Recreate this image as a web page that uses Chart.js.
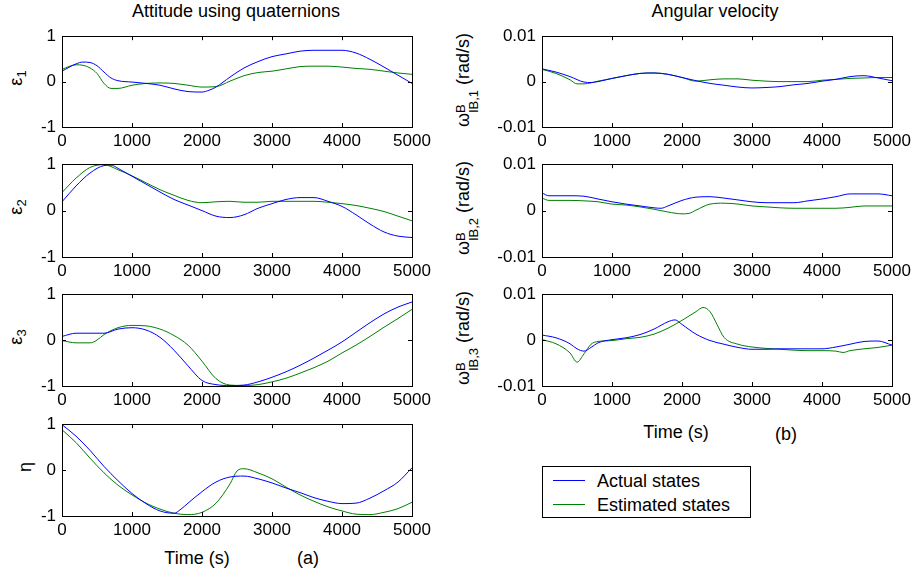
<!DOCTYPE html>
<html>
<head>
<meta charset="utf-8">
<script src="https://cdn.jsdelivr.net/npm/chart.js@4.4.0/dist/chart.umd.min.js"></script>
<style>
  body { margin: 0; background: #fff; }
  #fig { position: relative; width: 915px; height: 578px; overflow: hidden;
         font-family: "Liberation Sans", Arial, sans-serif; color: #000; }
  #fig canvas { position: absolute; }
  .txt { position: absolute; font-size: 18px; white-space: nowrap; line-height: 1;
         transform: translate(-50%, -50%); }
  .rot { transform: translate(-50%, -50%) rotate(-90deg); }
  .txt sub { font-size: 13px; vertical-align: -4px; }
  .stk { display: inline-block; vertical-align: -9px; font-size: 13px; line-height: 13px; }
  .stk span { display: block; }
  #legend { position: absolute; left: 542px; top: 466px; width: 207px; height: 50px;
            border: 1px solid #000; font-size: 18px; }
  #legend div { position: absolute; left: 54px; }
  #legend i { position: absolute; left: 10px; width: 32px; height: 1px; }
</style>
</head>
<body>
<div id="fig">
  <div class="txt" style="left:236px;top:11px">Attitude using quaternions</div>
  <div class="txt" style="left:715px;top:11px">Angular velocity</div>

  <div class="txt rot" style="left:17px;top:78px">ε<sub>1</sub></div>
  <div class="txt rot" style="left:17px;top:207px">ε<sub>2</sub></div>
  <div class="txt rot" style="left:17px;top:337px">ε<sub>3</sub></div>
  <div class="txt rot" style="left:25px;top:467px">η</div>

  <div class="txt rot" style="left:467px;top:80px">ω<span class="stk"><span>B</span><span>IB,1</span></span> (rad/s)</div>
  <div class="txt rot" style="left:467px;top:208px">ω<span class="stk"><span>B</span><span>IB,2</span></span> (rad/s)</div>
  <div class="txt rot" style="left:467px;top:338px">ω<span class="stk"><span>B</span><span>IB,3</span></span> (rad/s)</div>

  <div class="txt" style="left:197px;top:558px">Time (s)</div>
  <div class="txt" style="left:308px;top:558px">(a)</div>
  <div class="txt" style="left:676px;top:432px">Time (s)</div>
  <div class="txt" style="left:786px;top:434px">(b)</div>

  <div id="legend">
    <i style="top:13px;background:#0000ff"></i><div style="top:4px">Actual states</div>
    <i style="top:37px;background:#008000"></i><div style="top:28px">Estimated states</div>
  </div>
</div>
<script>
// time axis and tick values
const timeTicks = [0, 1000, 2000, 3000, 4000, 5000];
const attTicks = [-1, 0, 1];
const rateTicks = [-0.01, 0, 0.01];

// quaternion components, [time (s), value]
const eps1Actual = [[0,0.23],[200,0.39],[300,0.43],[400,0.42],[500,0.35],[600,0.21],[700,0.08],[800,0.02],[1000,-0.01],[1200,-0.04],[1400,-0.08],[1600,-0.16],[1800,-0.22],[2000,-0.23],[2100,-0.19],[2200,-0.12],[2400,0.10],[2600,0.30],[2800,0.44],[3000,0.55],[3200,0.61],[3400,0.67],[3600,0.69],[3800,0.69],[4000,0.69],[4200,0.63],[4400,0.49],[4600,0.32],[4800,0.14],[5000,-0.04]];
const eps1Est = [[0,0.27],[200,0.37],[300,0.36],[400,0.30],[500,0.18],[600,-0.04],[700,-0.15],[800,-0.15],[1000,-0.08],[1200,-0.04],[1400,-0.03],[1600,-0.04],[1800,-0.08],[2000,-0.12],[2200,-0.11],[2400,0.01],[2600,0.13],[2800,0.20],[3000,0.23],[3200,0.28],[3400,0.33],[3600,0.34],[3800,0.34],[4000,0.32],[4200,0.29],[4400,0.27],[4600,0.23],[4800,0.19],[5000,0.16]];

const eps2Actual = [[0,0.19],[200,0.53],[400,0.81],[600,0.97],[700,0.98],[800,0.91],[1000,0.74],[1200,0.57],[1400,0.40],[1600,0.24],[1800,0.12],[2000,0.0],[2200,-0.12],[2400,-0.15],[2600,-0.09],[2800,0.05],[3000,0.15],[3200,0.24],[3400,0.28],[3600,0.28],[3800,0.20],[4000,0.09],[4200,-0.09],[4400,-0.29],[4600,-0.46],[4800,-0.55],[5000,-0.58]];
const eps2Est = [[0,0.39],[200,0.70],[400,0.93],[600,0.99],[800,0.88],[1000,0.75],[1200,0.60],[1400,0.45],[1600,0.33],[1800,0.22],[2000,0.17],[2200,0.19],[2400,0.20],[2600,0.18],[2800,0.18],[3000,0.20],[3200,0.20],[3400,0.20],[3600,0.20],[3800,0.18],[4000,0.15],[4200,0.11],[4400,0.05],[4600,-0.02],[4800,-0.12],[5000,-0.22]];

const eps3Actual = [[0,0.08],[200,0.15],[400,0.15],[600,0.15],[800,0.24],[1000,0.27],[1200,0.22],[1400,0.06],[1600,-0.22],[1800,-0.56],[2000,-0.88],[2200,-0.97],[2400,-0.99],[2600,-0.98],[2800,-0.91],[3000,-0.81],[3200,-0.69],[3400,-0.55],[3600,-0.39],[3800,-0.22],[4000,-0.04],[4200,0.17],[4400,0.38],[4600,0.57],[4800,0.72],[5000,0.83]];
const eps3Est = [[0,-0.01],[200,-0.06],[400,-0.06],[500,0.0],[600,0.12],[800,0.27],[1000,0.32],[1200,0.31],[1400,0.24],[1600,0.10],[1800,-0.11],[2000,-0.46],[2200,-0.84],[2400,-0.98],[2600,-0.99],[2800,-0.97],[3000,-0.91],[3200,-0.83],[3400,-0.72],[3600,-0.60],[3800,-0.46],[4000,-0.28],[4200,-0.11],[4400,0.08],[4600,0.28],[4800,0.47],[5000,0.67]];

const etaActual = [[0,0.99],[200,0.74],[400,0.43],[600,0.08],[800,-0.23],[1000,-0.51],[1200,-0.73],[1400,-0.89],[1600,-0.94],[1700,-0.85],[1800,-0.72],[2000,-0.47],[2200,-0.26],[2400,-0.15],[2600,-0.13],[2800,-0.19],[3000,-0.28],[3200,-0.39],[3400,-0.49],[3600,-0.60],[3800,-0.68],[4000,-0.73],[4200,-0.72],[4400,-0.61],[4600,-0.45],[4800,-0.26],[5000,0.05]];
const etaEst = [[0,0.88],[200,0.60],[400,0.26],[600,-0.06],[800,-0.33],[1000,-0.54],[1200,-0.72],[1400,-0.85],[1600,-0.94],[1800,-0.97],[2000,-0.92],[2200,-0.72],[2400,-0.30],[2500,-0.02],[2600,0.03],[2800,-0.06],[3000,-0.19],[3200,-0.37],[3400,-0.54],[3600,-0.68],[3800,-0.80],[4000,-0.89],[4200,-0.96],[4400,-0.97],[4600,-0.92],[4800,-0.84],[5000,-0.70]];

// body rates (rad/s), [time (s), value]
const w1Actual = [[0,0.0028],[200,0.0021],[400,0.0011],[600,-0.0001],[700,-0.0002],[800,0.0],[1000,0.0007],[1200,0.0013],[1400,0.0018],[1600,0.0019],[1800,0.0016],[2000,0.0009],[2200,0.0002],[2400,-0.0004],[2600,-0.0008],[2800,-0.0012],[3000,-0.0014],[3200,-0.0013],[3400,-0.0011],[3600,-0.0007],[3800,-0.0004],[4000,0.0001],[4200,0.0005],[4400,0.0011],[4600,0.0013],[4800,0.0008],[5000,0.0002]];
const w1Est = [[0,0.0027],[200,0.0018],[400,0.0004],[500,-0.0005],[600,-0.0005],[800,0.0001],[1000,0.0007],[1200,0.0013],[1400,0.0018],[1600,0.0019],[1800,0.0016],[2000,0.0009],[2200,0.0001],[2400,0.0004],[2600,0.0006],[2800,0.0006],[3000,0.0003],[3200,0.0001],[3400,0.0],[3600,0.0],[3800,0.0],[4000,0.0003],[4200,0.0005],[4400,0.0007],[4600,0.0008],[4800,0.0009],[5000,0.0009]];

const w2Actual = [[0,0.0038],[100,0.0032],[400,0.0032],[600,0.0031],[800,0.0025],[1000,0.0019],[1200,0.0014],[1400,0.0010],[1600,0.0006],[1700,0.0005],[1800,0.0010],[2000,0.0022],[2200,0.0029],[2400,0.0030],[2600,0.0027],[2800,0.0023],[3000,0.0019],[3200,0.0017],[3400,0.0017],[3600,0.0017],[3800,0.0021],[4000,0.0025],[4200,0.0030],[4400,0.0036],[4600,0.0036],[4800,0.0036],[5000,0.0032]];
const w2Est = [[0,0.0027],[100,0.0022],[400,0.0022],[600,0.0021],[800,0.0019],[1000,0.0014],[1200,0.0012],[1400,0.0008],[1600,0.0003],[1800,-0.0003],[2000,-0.0007],[2100,-0.0006],[2200,0.0001],[2400,0.0014],[2600,0.0016],[2800,0.0014],[3000,0.0010],[3200,0.0008],[3400,0.0006],[3600,0.0005],[3800,0.0005],[4000,0.0005],[4200,0.0005],[4400,0.0007],[4600,0.0010],[4800,0.0010],[5000,0.0010]];

const w3Actual = [[0,0.0011],[200,0.0005],[400,-0.0008],[500,-0.0019],[600,-0.0024],[700,-0.0016],[800,-0.0006],[1000,0.0001],[1200,0.0005],[1400,0.0012],[1600,0.0024],[1800,0.0040],[1900,0.0044],[2000,0.0034],[2200,0.0013],[2400,-0.0001],[2600,-0.0009],[2800,-0.0016],[3000,-0.0020],[3200,-0.0020],[3400,-0.0019],[3600,-0.0019],[3800,-0.0019],[4000,-0.0019],[4200,-0.0015],[4400,-0.0009],[4600,-0.0003],[4800,-0.0002],[5000,-0.0011]];
const w3Est = [[0,0.0001],[200,-0.0008],[400,-0.0028],[500,-0.0048],[600,-0.0030],[700,-0.0009],[800,-0.0003],[1000,-0.0001],[1200,0.0003],[1400,0.0006],[1600,0.0013],[1800,0.0026],[2000,0.0043],[2200,0.0062],[2300,0.0071],[2400,0.0062],[2500,0.0034],[2600,0.0006],[2800,-0.0009],[3000,-0.0015],[3200,-0.0018],[3400,-0.0020],[3600,-0.0022],[3800,-0.0023],[4000,-0.0023],[4200,-0.0024],[4300,-0.0027],[4400,-0.0023],[4600,-0.0019],[4800,-0.0016],[5000,-0.0011]];

const ACTUAL = '#0000ff';
const ESTIMATED = '#008000';

// box around the axes with inward ticks on all four sides
const boxTicks = {
  id: 'boxTicks',
  afterDatasetsDraw(chart) {
    const { ctx, chartArea: a, scales: { x, y } } = chart;
    const len = 4;
    ctx.save();
    ctx.strokeStyle = '#000';
    ctx.lineWidth = 1;
    ctx.beginPath();
    x.ticks.forEach(t => {
      const px = Math.round(x.getPixelForValue(t.value)) + 0.5;
      ctx.moveTo(px, a.bottom); ctx.lineTo(px, a.bottom - len);
      ctx.moveTo(px, a.top); ctx.lineTo(px, a.top + len);
    });
    y.ticks.forEach(t => {
      const py = Math.round(y.getPixelForValue(t.value)) + 0.5;
      ctx.moveTo(a.left, py); ctx.lineTo(a.left + len, py);
      ctx.moveTo(a.right, py); ctx.lineTo(a.right - len, py);
    });
    ctx.stroke();
    ctx.strokeRect(Math.round(a.left) + 0.5, Math.round(a.top) + 0.5,
                   Math.round(a.right - a.left), Math.round(a.bottom - a.top));
    ctx.restore();
  }
};

const tickFont = { family: '"Liberation Sans", Arial, sans-serif', size: 17 };

function panel(plotLeft, plotTop, plotRight, plotBottom, yTicks, actual, estimated) {
  const yAxisW = 62, xAxisH = 30, padTop = 12, padRight = 24;
  const canvas = document.createElement('canvas');
  const w = plotRight - plotLeft + yAxisW + padRight;
  const h = plotBottom - plotTop + padTop + xAxisH;
  canvas.width = w; canvas.height = h;
  canvas.style.left = (plotLeft - yAxisW) + 'px';
  canvas.style.top = (plotTop - padTop) + 'px';
  canvas.style.width = w + 'px'; canvas.style.height = h + 'px';
  document.getElementById('fig').appendChild(canvas);

  const toXY = d => d.map(([t, v]) => ({ x: t, y: v }));
  const line = color => ({ borderColor: color, borderWidth: 1, pointRadius: 0,
                           fill: false, cubicInterpolationMode: 'monotone' });

  new Chart(canvas, {
    type: 'line',
    data: {
      datasets: [
        { label: 'Actual states', data: toXY(actual), ...line(ACTUAL) },
        { label: 'Estimated states', data: toXY(estimated), ...line(ESTIMATED) }
      ]
    },
    options: {
      responsive: false,
      animation: false,
      devicePixelRatio: 1,
      layout: { autoPadding: false, padding: { left: 0, top: padTop, right: padRight, bottom: 0 } },
      plugins: { legend: { display: false }, tooltip: { enabled: false } },
      scales: {
        x: {
          type: 'linear', min: timeTicks[0], max: timeTicks[timeTicks.length - 1],
          afterBuildTicks: s => { s.ticks = timeTicks.map(v => ({ value: v })); },
          afterFit: s => { s.height = xAxisH; },
          grid: { display: false, drawTicks: false },
          border: { display: false },
          ticks: { color: '#000', font: tickFont, padding: 4, maxRotation: 0,
                   callback: v => String(v) }
        },
        y: {
          type: 'linear', min: yTicks[0], max: yTicks[yTicks.length - 1],
          afterBuildTicks: s => { s.ticks = yTicks.map(v => ({ value: v })); },
          afterFit: s => { s.width = yAxisW; },
          grid: { display: false, drawTicks: false },
          border: { display: false },
          ticks: { color: '#000', font: tickFont, padding: 6,
                   callback: v => String(v) }
        }
      }
    },
    plugins: [boxTicks]
  });
}

panel(62, 32, 412, 127, attTicks, eps1Actual, eps1Est);
panel(62, 160, 412, 257, attTicks, eps2Actual, eps2Est);
panel(62, 290, 412, 386, attTicks, eps3Actual, eps3Est);
panel(62, 420, 412, 516, attTicks, etaActual, etaEst);

panel(542, 32, 892, 127, rateTicks, w1Actual, w1Est);
panel(542, 160, 892, 257, rateTicks, w2Actual, w2Est);
panel(542, 290, 892, 386, rateTicks, w3Actual, w3Est);
</script>
</body>
</html>
